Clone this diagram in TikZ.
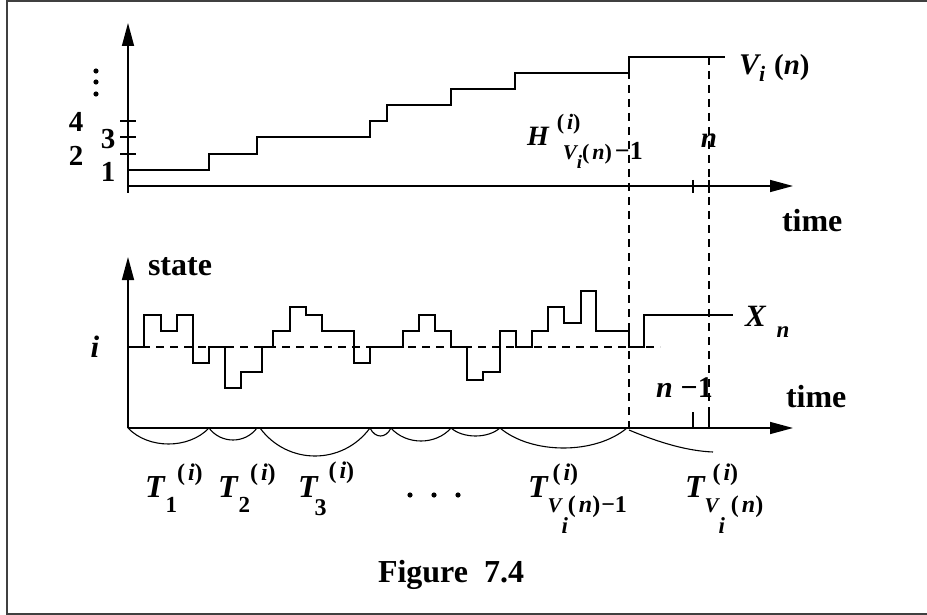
\documentclass[tikz,border=0pt]{standalone}
\usepackage{fontspec}
\setmainfont{Liberation Serif}
\usetikzlibrary{arrows.meta}
\newcommand{\fs}[1]{\fontsize{#1}{#1}\selectfont}
\newcommand{\bi}{\bfseries\itshape}
\newcommand{\bu}{\normalfont\bfseries}
\newcommand{\supi}[1]{{\fs{#1}\bu(\hspace{3pt}\bi i\bu)}}
\tikzset{
  ln/.style={line width=1.3pt},
  ax/.style={line width=1.5pt,-{Triangle[length=23pt,width=12pt]}},
  dsh/.style={line width=1.1pt,dash pattern=on 8pt off 6pt},
  lab/.style={inner sep=0pt,outer sep=0pt},
  dotmark/.style={fill=black,draw=none}
}
\begin{document}
\begin{tikzpicture}[x=1pt,y=-1pt]
\useasboundingbox (0,0) rectangle (927,615);
% frame
\draw[line width=1.6pt,black!75] (940,1) -- (7,1) -- (7,614) -- (940,614);

% ---------- top plot ----------
\coordinate (ta0) at (128,193);
\coordinate (ta1) at (128,23);
\coordinate (tb0) at (128,186);
\coordinate (tb1) at (793,186);
\draw[ax] (ta0) -- (ta1);
\draw[ax] (tb0) -- (tb1);
\foreach \y in {121,137,154} \draw[ln] (120,\y) -- (136,\y);
\draw[ln] (128,170) -| (209,154) -| (257,137) -| (370,121) -| (387,105)
  -| (451,89) -| (515,73) -| (629,57) -- (725,57);
\foreach \x in {693,709} \draw[ln] (\x,180) -- (\x,193);
\foreach \x in {693,709} \draw[ln] (\x,412) -- (\x,428);
\draw[dsh] (629,57) -- (629,428);
\draw[dsh] (709,57) -- (709,428);

\node[lab,anchor=base] (d1) at (108,182) {\fs{29}\bfseries 1};
\node[lab,anchor=base] (d2) at (76,166) {\fs{29}\bfseries 2};
\node[lab,anchor=base] (d3) at (108,149) {\fs{29}\bfseries 3};
\node[lab,anchor=base] (d4) at (76,132) {\fs{29}\bfseries 4};
\foreach \y in {71,82,94} \fill[dotmark] (96,\y) circle (2.6);

\node[lab,anchor=base west] (vlab) at (739,75)
  {\fs{30}\bi V\raisebox{-7pt}{\fs{22}i}\hspace{9pt}{\fs{29}\bu(\bi n\bu)}};
\node[lab,anchor=base west] (hlab) at (527,146)
  {\fs{28}\bi H\hspace{8pt}\makebox[0pt][l]{\raisebox{16pt}{\supi{22}}}\hspace{6pt}\raisebox{-14pt}{\fs{21}\bi V\raisebox{-9pt}{\fs{19}i}\fs{22}\bu(\hspace{3pt}\bi n\bu)\hspace{3pt}\fs{26}−1}};
\node[lab,anchor=base] (ntop) at (709,148) {\fs{29}\bi n};
\node[lab,anchor=base west] (time1) at (782,232) {\fs{32}\bfseries time};

% ---------- bottom plot ----------
\coordinate (ba0) at (128,428);
\coordinate (ba1) at (128,257);
\coordinate (bb1) at (793,428);
\draw[ax] (ba0) -- (ba1);
\draw[ax] (ba0) -- (bb1);
\draw[dsh] (128,347) -- (660,347);
\draw[ln] (128,347) -- (144,347) -- (144,315) -- (161,315) -- (161,331) -- (177,331)
  -- (177,315) -- (193,315) -- (193,363) -- (209,363) -- (209,347) -- (225,347)
  -- (225,388) -- (241,388) -- (241,372) -- (262,372) -- (262,347) -- (273,347)
  -- (273,331) -- (290,331) -- (290,307) -- (306,307) -- (306,315) -- (322,315)
  -- (322,331) -- (354,331) -- (354,363) -- (370,363) -- (370,347) -- (403,347)
  -- (403,331) -- (419,331) -- (419,315) -- (435,315) -- (435,331) -- (451,331)
  -- (451,347) -- (467,347) -- (467,380) -- (483,380) -- (483,372) -- (500,372)
  -- (500,331) -- (516,331) -- (516,347) -- (532,347) -- (532,331) -- (548,331)
  -- (548,307) -- (564,307) -- (564,323) -- (581,323) -- (581,291) -- (596,291)
  -- (596,331) -- (629,331) -- (629,347) -- (644,347) -- (644,315) -- (733,315);
% arcs below the time axis
\foreach \a/\b/\d in {128/209/16, 209/257/12, 260/370/28, 370/391/8, 391/451/13, 451/500/8, 500/627/20}
  \draw[line width=1.1pt] (\a,428) .. controls ({\a+(\b-\a)/4},{428+4*\d/3}) and ({\b-(\b-\a)/4},{428+4*\d/3}) .. (\b,428);
\draw[line width=1.1pt] (629,430) .. controls (660,443) and (688,451) .. (713,452);

\node[lab,anchor=base west] (state) at (148,275) {\fs{32}\bfseries state};
\node[lab,anchor=base] (ilab) at (95,357) {\fs{31}\bi i};
\node[lab,anchor=base west] (xn) at (745,326) {\fs{31}\bi X\hspace{11pt}\raisebox{-11pt}{\fs{23}n}};
\node[lab,anchor=base west] (nm1) at (656,397) {\fs{30}\bi n\hspace{8pt}\bu −1};
\node[lab,anchor=base west] (time2) at (786,407) {\fs{32}\bfseries time};

\node[lab,anchor=base west] (t1) at (145,497)
  {\fs{32}\bi T\hspace{1pt}\raisebox{-15pt}{\fs{23}\bu 1}\raisebox{17pt}{\supi{24}}};
\node[lab,anchor=base west] (t2) at (218,497)
  {\fs{32}\bi T\hspace{1pt}\raisebox{-15pt}{\fs{23}\bu 2}\raisebox{17pt}{\supi{24}}};
\node[lab,anchor=base west] (t3) at (298,497)
  {\fs{32}\bi T\hspace{-3pt}\raisebox{-18pt}{\fs{24}\bu 3}\hspace{2pt}\raisebox{19pt}{\supi{24}}};
\foreach \x in {410,434,458} \fill[dotmark] (\x,495) circle (2.6);
\node[lab,anchor=base west] (tv1) at (528,497)
  {\fs{32}\bi T\makebox[0pt][l]{\hspace{5pt}\raisebox{17pt}{\supi{24}}}\raisebox{-15pt}{\fs{21}\bi V\raisebox{-21pt}{\fs{23}i}\fs{24}\bu(\hspace{3pt}\bi n\bu)\hspace{1pt}−1}};
\node[lab,anchor=base west] (tv2) at (685,497)
  {\fs{32}\bi T\makebox[0pt][l]{\hspace{8pt}\raisebox{17pt}{\supi{24}}}\raisebox{-15pt}{\fs{21}\bi V\raisebox{-21pt}{\fs{23}i}\hspace{6pt}\fs{24}\bu(\hspace{3pt}\bi n\bu)}};

\node[lab,anchor=base west] (fig) at (378,582) {\fs{32}\bfseries Figure\hspace{16pt}7.4};
\end{tikzpicture}
\end{document}
